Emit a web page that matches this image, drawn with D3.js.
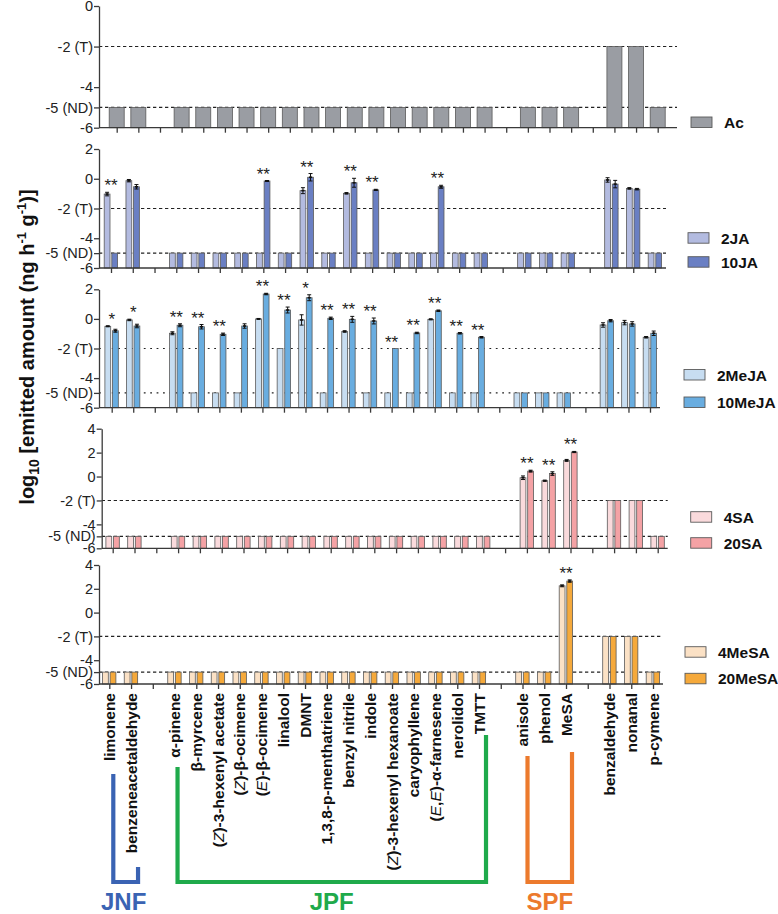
<!DOCTYPE html>
<html><head><meta charset="utf-8">
<script src="https://cdn.jsdelivr.net/npm/d3@7"></script>
<style>body{margin:0;background:#fff} svg text{font-family:"Liberation Sans",Arial,sans-serif}</style>
</head><body><svg id="c" width="778" height="914"></svg>
<script>
// ---------- DATA ----------
const groupJNF = ["limonene","benzeneacetaldehyde"];
const groupJPF = ["α-pinene","β-myrcene","(Z)-3-hexenyl acetate","(Z)-β-ocimene","(E)-β-ocimene","linalool","DMNT","1,3,8-p-menthatriene","benzyl nitrile","indole","(Z)-3-hexenyl hexanoate","caryophyllene","(E,E)-α-farnesene","nerolidol","TMTT"];
const groupSPF = ["anisole","phenol","MeSA"];
const groupOther = ["benzaldehyde","nonanal","p-cymene"];
const categories = [...groupJNF, ...groupJPF, ...groupSPF, ...groupOther];
const slotDomain = [...groupJNF, "gap1", ...groupJPF, "gap2", ...groupSPF, "gap3", ...groupOther];
const groupNames = ["JNF","JPF","SPF"];

const ticksShort = [0,-2,-4,-5,-6];
const ticksMid = [2,0,-2,-4,-5,-6];
const ticksTall = [4,2,0,-2,-4,-5,-6];
const tickLabels = {"4":"4","2":"2","0":"0","-2":"-2 (T)","-4":"-4","-5":"-5 (ND)","-6":"-6"};
const refLines = [-2,-5];

const seriesNames = ["Ac","2JA","10JA","2MeJA","10MeJA","4SA","20SA","4MeSA","20MeSA"];

//            lim   bza   apin  bmyr  z3ha  zboc  eboc  lina  dmnt  menth bnit  indo  z3hh  cary  farn  nero  tmtt  anis  phen  mesa  bzal  nona  pcym
const ac    = [-5,   -5,   -5,   -5,   -5,   -5,   -5,   -5,   -5,   -5,   -5,   -5,   -5,   -5,   -5,   -5,   -5,   -5,   -5,   -5,   -2,   -2,   -5];

const ja2   = [-1.03,-0.13,-5,   -5,   -5,   -5,   -5,   -5,   -0.8, -5,   -0.98,-5,   -5,   -5,   -5,   -5,   -5,   -5,   -5,   -5,   -0.08,-0.65,-5];
const ja2E  = [0.12, 0.08, 0,    0,    0,    0,    0,    0,    0.2,  0,    0.05, 0,    0,    0,    0,    0,    0,    0,    0,    0,    0.15, 0.05, 0];
const ja10  = [-5,   -0.54,-5,   -5,   -5,   -5,   -0.15,-5,   0.1,  -5,   -0.27,-0.75,-5,   -5,   -0.54,-5,   -5,   -5,   -5,   -5,   -0.36,-0.7, -5];
const ja10E = [0,    0.15, 0,    0,    0,    0,    0.03, 0,    0.25, 0,    0.3,  0.04, 0,    0,    0.1,  0,    0,    0,    0,    0,    0.25, 0.05, 0];
const jaSig = ["**", "",   "",   "",   "",   "",   "**", "",   "**", "",   "**", "**", "",   "",   "**", "",   "",   "",   "",   "",   "",   "",   ""];

const me2   = [-0.5, -0.07,-0.97,-5,   -5,   -5,   0.0,  -2,   -0.07,-5,   -0.85,-5,   -5,   -5,   -0.03,-5,   -5,   -5,   -5,   -5,   -0.41,-0.25,-1.24];
const me2E  = [0.03, 0.05, 0.1,  0,    0,    0,    0.03, 0,    0.35, 0,    0.05, 0,    0,    0,    0.03, 0,    0,    0,    0,    0,    0.15, 0.15, 0.05];
const me10  = [-0.8, -0.48,-0.43,-0.53,-1.04,-0.48,1.68, 0.6,  1.43, 0.04, -0.03,-0.14,-2,   -0.95,0.55, -0.97,-1.24,-5,   -5,   -5,   -0.12,-0.34,-0.97];
const me10E = [0.1,  0.12, 0.1,  0.15, 0.08, 0.15, 0.05, 0.2,  0.2,  0.08, 0.2,  0.2,  0,    0.05, 0.05, 0.05, 0.05, 0,    0,    0,    0.08, 0.15, 0.15];
const meSig = ["*",  "*",  "**", "**", "**", "",   "**", "**", "*",  "**", "**", "**", "**", "**", "**", "**", "**", "",   "",   "",   "",   "",   ""];

const sa4   = [-5,   -5,   -5,   -5,   -5,   -5,   -5,   -5,   -5,   -5,   -5,   -5,   -5,   -5,   -5,   -5,   -5,   -0.1, -0.35,1.35, -2,   -2,   -5];
const sa4E  = [0,    0,    0,    0,    0,    0,    0,    0,    0,    0,    0,    0,    0,    0,    0,    0,    0,    0.15, 0.05, 0.08, 0,    0,    0];
const sa20  = [-5,   -5,   -5,   -5,   -5,   -5,   -5,   -5,   -5,   -5,   -5,   -5,   -5,   -5,   -5,   -5,   -5,   0.45, 0.25, 2.05, -2,   -2,   -5];
const sa20E = [0,    0,    0,    0,    0,    0,    0,    0,    0,    0,    0,    0,    0,    0,    0,    0,    0,    0.08, 0.15, 0.05, 0,    0,    0];
const saSig = ["",   "",   "",   "",   "",   "",   "",   "",   "",   "",   "",   "",   "",   "",   "",   "",   "",   "**", "**", "**", "",   "",   ""];

const ms4   = [-5,   -5,   -5,   -5,   -5,   -5,   -5,   -5,   -5,   -5,   -5,   -5,   -5,   -5,   -5,   -5,   -5,   -5,   -5,   2.25, -2,   -2,   -5];
const ms4E  = [0,    0,    0,    0,    0,    0,    0,    0,    0,    0,    0,    0,    0,    0,    0,    0,    0,    0,    0,    0.08, 0,    0,    0];
const ms20  = [-5,   -5,   -5,   -5,   -5,   -5,   -5,   -5,   -5,   -5,   -5,   -5,   -5,   -5,   -5,   -5,   -5,   -5,   -5,   2.65, -2,   -2,   -5];
const ms20E = [0,    0,    0,    0,    0,    0,    0,    0,    0,    0,    0,    0,    0,    0,    0,    0,    0,    0,    0,    0.1,  0,    0,    0];
const msSig = ["",   "",   "",   "",   "",   "",   "",   "",   "",   "",   "",   "",   "",   "",   "",   "",   "",   "",   "",   "**", "",   "",   ""];

// ---------- LAYOUT / STYLE ----------
const panels = [
  {series:[{name:"Ac",v:ac,e:null,fill:"#9a9da3"}], sig:null, ticks:ticksShort, top:0,
   axisX:99, x0:116.7, x1:657.7, xEnd:677, yTop:6, yBot:127.7, dash:"3.3,2.7",
   legX:691, legY:[117]},
  {series:[{name:"2JA",v:ja2,e:ja2E,fill:"#b3bbe0"},{name:"10JA",v:ja10,e:ja10E,fill:"#6a7fc3"}], sig:jaSig, ticks:ticksMid, top:2,
   axisX:99, x0:111, x1:655, xEnd:666, yTop:149, yBot:268, dash:"3.3,2.7",
   legX:688, legY:[232.7,256.7]},
  {series:[{name:"2MeJA",v:me2,e:me2E,fill:"#c7ddf1"},{name:"10MeJA",v:me10,e:me10E,fill:"#69ade0"}], sig:meSig, ticks:ticksMid, top:2,
   axisX:99, x0:111.7, x1:650, xEnd:660, yTop:289.3, yBot:407.7, dash:"1.8,4.6",
   legX:684, legY:[369.5,397]},
  {series:[{name:"4SA",v:sa4,e:sa4E,fill:"#fadadc"},{name:"20SA",v:sa20,e:sa20E,fill:"#f4a2a5"}], sig:saSig, ticks:ticksTall, top:4,
   axisX:101.7, x0:112.7, x1:657.7, xEnd:667.7, yTop:428.7, yBot:548.3, dash:"3.3,2.7",
   legX:690.7, legY:[511.7,537.7]},
  {series:[{name:"4MeSA",v:ms4,e:ms4E,fill:"#fbe1c5"},{name:"20MeSA",v:ms20,e:ms20E,fill:"#f5a93b"}], sig:msSig, ticks:ticksTall, top:4,
   axisX:99, x0:109.3, x1:653, xEnd:663, yTop:565, yBot:684, dash:"3.3,2.7",
   legX:685, legY:[646.7,673.3]}
];

const svg = d3.select("#c");
const axisColor = "#3a3a3a";
const barStroke = "#5a5a5a";

let lastX = null;
panels.forEach((p, pi) => {
  const g = svg.append("g");
  const x = d3.scalePoint().domain(slotDomain).range([p.x0, p.x1]);
  const y = d3.scaleLinear().domain([-6, p.top]).range([p.yBot, p.yTop]);
  lastX = x;

  // reference lines
  refLines.forEach(r => {
    g.append("line").attr("x1", p.axisX).attr("x2", p.xEnd)
      .attr("y1", y(r)).attr("y2", y(r))
      .attr("stroke", "#222").attr("stroke-width", 1.1)
      .attr("stroke-dasharray", p.dash);
  });

  // bars
  const n = p.series.length;
  p.series.forEach((s, si) => {
    const bw = n === 1 ? 15 : 5.8;
    const off = n === 1 ? -7.5 : (si === 0 ? -6.8 : 0.8);
    const data = categories.map((c, i) => ({c, v: s.v[i], e: s.e ? s.e[i] : 0}));
    g.selectAll(null).data(data).enter().append("rect")
      .attr("x", d => x(d.c) + off)
      .attr("width", bw)
      .attr("y", d => y(d.v))
      .attr("height", d => y(-6) - y(d.v))
      .attr("fill", s.fill)
      .attr("stroke", barStroke).attr("stroke-width", 0.8);
    // error bars
    const eb = data.filter(d => d.v > -5 && d.e > 0);
    const cxOf = d => x(d.c) + off + bw / 2;
    g.selectAll(null).data(eb).enter().append("line")
      .attr("x1", cxOf).attr("x2", cxOf)
      .attr("y1", d => y(d.v + d.e)).attr("y2", d => y(d.v - d.e))
      .attr("stroke", "#111").attr("stroke-width", 1);
    [1, -1].forEach(sg => {
      g.selectAll(null).data(eb).enter().append("line")
        .attr("x1", d => cxOf(d) - 2).attr("x2", d => cxOf(d) + 2)
        .attr("y1", d => y(d.v + sg * d.e)).attr("y2", d => y(d.v + sg * d.e))
        .attr("stroke", "#111").attr("stroke-width", 1);
    });
    // mean marker
    g.selectAll(null).data(data.filter(d => d.v > -2 || (d.v > -5 && d.e > 0))).enter().append("line")
      .attr("x1", d => cxOf(d) - 1.6).attr("x2", d => cxOf(d) + 1.6)
      .attr("y1", d => y(d.v)).attr("y2", d => y(d.v))
      .attr("stroke", "#111").attr("stroke-width", 1.6);
  });

  // significance
  if (p.sig) {
    const sigData = categories.map((c, i) => ({c, s: p.sig[i],
      top: d3.max(p.series, s => s.v[i] + (s.e ? s.e[i] : 0))})).filter(d => d.s);
    g.selectAll(null).data(sigData).enter().append("text")
      .attr("x", d => x(d.c)).attr("y", d => y(d.top) - 1)
      .attr("text-anchor", "middle").attr("font-size", 17).attr("fill", "#222")
      .text(d => d.s);
  }

  // y axis
  const ya = g.append("g").attr("transform", `translate(${p.axisX},0)`)
    .call(d3.axisLeft(y).tickValues(p.ticks).tickFormat(v => tickLabels[String(v)]).tickSize(5).tickSizeOuter(0));
  ya.select(".domain").attr("stroke", axisColor).attr("stroke-width", 1.3);
  ya.selectAll(".tick line").attr("stroke", axisColor).attr("stroke-width", 1.3);
  ya.selectAll(".tick text").attr("font-size", 14.5).attr("fill", "#222")
    .attr("font-family", "'Liberation Sans',Arial,sans-serif").attr("x", -6);

  // x axis
  const xa = g.append("g").attr("transform", `translate(0,${p.yBot})`)
    .call(d3.axisBottom(x).tickFormat("").tickSize(5).tickSizeOuter(0));
  xa.select(".domain").remove();
  xa.selectAll(".tick line").attr("stroke", axisColor).attr("stroke-width", 1.3);
  g.append("line").attr("x1", p.axisX).attr("x2", p.xEnd).attr("y1", p.yBot).attr("y2", p.yBot)
    .attr("stroke", axisColor).attr("stroke-width", 1.3);

  // legend
  p.series.forEach((s, si) => {
    svg.append("rect").attr("x", p.legX).attr("y", p.legY[si]).attr("width", 21).attr("height", 10.5)
      .attr("fill", s.fill).attr("stroke", barStroke).attr("stroke-width", 0.9);
    svg.append("text").attr("x", p.legX + 33).attr("y", p.legY[si] + 11)
      .attr("font-size", 15.5).attr("font-weight", "bold").attr("fill", "#111").text(s.name);
  });
});

// x category labels (bottom panel)
const pb = panels[4];
const labelG = svg.append("g");
categories.forEach(c => {
  const t = labelG.append("text")
    .attr("transform", `translate(${lastX(c)},${pb.yBot + 9}) rotate(-90)`)
    .attr("text-anchor", "end").attr("dy", "0.36em")
    .attr("font-size", 15.5).attr("font-weight", "bold").attr("fill", "#111");
  const m = c.match(/^\(([^)]*)\)(.*)$/);
  if (m) {
    t.append("tspan").text("(");
    m[1].split(",").forEach((part, k) => {
      if (k > 0) t.append("tspan").text(",");
      t.append("tspan").attr("font-style", "italic").attr("font-weight", "normal").text(part);
    });
    t.append("tspan").text(")" + m[2]);
  } else t.text(c);
});

// group brackets
const brackets = [
  {name:"JNF", color:"#3a63b3", a:"limonene", b:"benzeneacetaldehyde", ya:774, yb:867, yBase:882, dxA:4, dxB:7},
  {name:"JPF", color:"#1faa4b", a:"α-pinene", b:"TMTT", ya:767, yb:735, yBase:882, dxA:3, dxB:7},
  {name:"SPF", color:"#ec7a2d", a:"anisole", b:"MeSA", ya:756, yb:752, yBase:882, dxA:5, dxB:6}
];
brackets.forEach(b => {
  const xa = lastX(b.a) + b.dxA;
  const xb = lastX(b.b) + b.dxB;
  svg.append("path")
    .attr("d", `M${xa},${b.ya} V${b.yBase} H${xb} V${b.yb}`)
    .attr("fill", "none").attr("stroke", b.color).attr("stroke-width", 4.2);
  svg.append("text").attr("x", (xa + xb) / 2 + (b.name === "JNF" ? -2 : 0)).attr("y", 910)
    .attr("text-anchor", "middle").attr("font-size", 24).attr("font-weight", "bold")
    .attr("fill", b.color).text(b.name);
});

// y-axis title
const yt = svg.append("text")
  .attr("transform", "translate(34,347) rotate(-90)")
  .attr("text-anchor", "middle").attr("font-size", 20).attr("font-weight", "bold").attr("fill", "#111");
yt.append("tspan").text("log");
yt.append("tspan").attr("font-size", 14).attr("dy", 5).text("10");
yt.append("tspan").attr("dy", -5).text(" [emitted amount (ng h");
yt.append("tspan").attr("font-size", 13).attr("dy", -8).text("-1");
yt.append("tspan").attr("dy", 8).text(" g");
yt.append("tspan").attr("font-size", 13).attr("dy", -8).text("-1");
yt.append("tspan").attr("dy", 8).text(")]");
</script></body></html>
